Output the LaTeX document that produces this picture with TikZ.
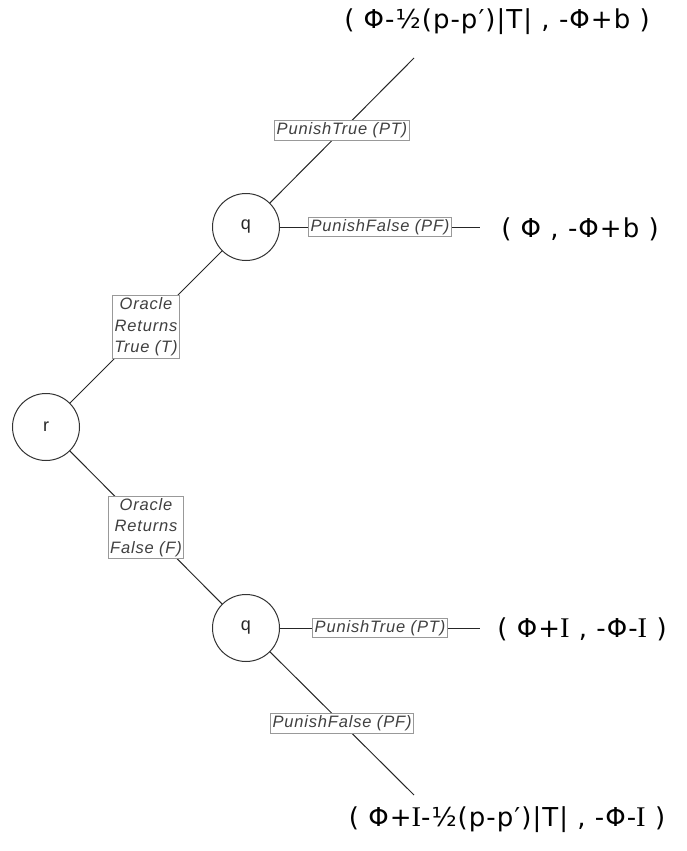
\documentclass[tikz,border=0pt]{standalone}
\usepackage{fontspec}
\newfontfamily\labfont[LetterSpace=5]{Liberation Sans}
\newfontfamily\nodefont{Liberation Sans}
\newfontfamily\leaffont[LetterSpace=4]{DejaVu Sans}
\newfontfamily\serifI{Liberation Serif}
\newcommand{\sI}{{\serifI\fontsize{28.5}{30}\selectfont I}}
\begin{document}
\begin{tikzpicture}[x=1pt,y=-1pt,
  state/.style={circle, draw=black!80, line width=1pt, minimum size=67pt, inner sep=0pt, font=\nodefont\fontsize{18}{20}\selectfont, text=black!85},
  elab/.style={draw=black!40, fill=white, line width=0.8pt, inner sep=2pt, align=center, font=\labfont\itshape\fontsize{16.5}{21.5}\selectfont, text=black!75},
  leaf/.style={font=\leaffont\fontsize{26}{30}\selectfont, inner sep=0pt, text=black},
  edge/.style={line width=1pt, draw=black!85}]
\useasboundingbox (0,0) rectangle (686,851);
\node[state] (r) at (46,427) {r};
\node[state] (qt) at (246,227) {q};
\node[state] (qb) at (246,628) {q};
\coordinate (e1) at (414,58);
\coordinate (e2) at (480,227);
\coordinate (e3) at (480,628);
\coordinate (e4) at (414,795);
\node[leaf] (l1) at (497,22) {( Φ-½(p-p′)|T| , -Φ+b )};
\node[leaf] (l2) at (580,229) {( Φ , -Φ+b )};
\node[leaf] (l3) at (582,629) {( Φ+\sI{} , -Φ-\sI{} )};
\node[leaf] (l4) at (507,820) {( Φ+\sI-½(p-p′)|T| , -Φ-\sI{} )};
\draw[edge] (r) -- node[elab]{Oracle\\Returns\\True (T)} (qt);
\draw[edge] (r) -- node[elab]{Oracle\\Returns\\False (F)} (qb);
\draw[edge] (qt) -- node[elab]{PunishTrue (PT)} (e1);
\draw[edge] (qt) -- node[elab]{PunishFalse (PF)} (e2);
\draw[edge] (qb) -- node[elab]{PunishTrue (PT)} (e3);
\draw[edge] (qb) -- node[elab]{PunishFalse (PF)} (e4);
\end{tikzpicture}
\end{document}
